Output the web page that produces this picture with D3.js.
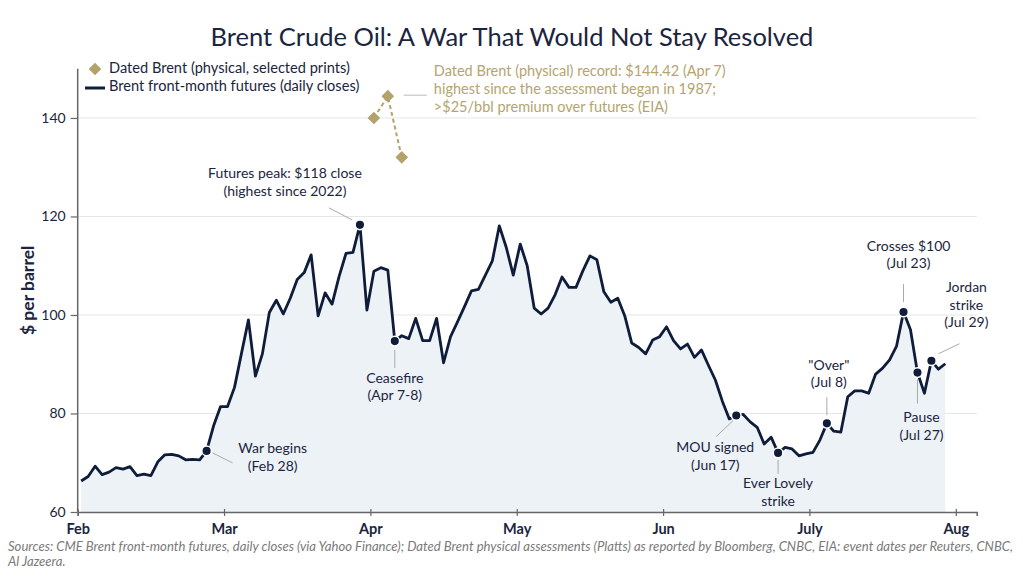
<!DOCTYPE html>
<html>
<head>
<meta charset="utf-8">
<script src="https://cdn.jsdelivr.net/npm/d3@7"></script>
<style>
  html, body { margin: 0; padding: 0; background: #fff; }
  svg { display: block; font-family: Lato, "Open Sans", sans-serif; }
</style>
</head>
<body>
<svg id="chart" width="1023" height="585"></svg>
<script>
// Brent front-month futures, daily closes (one value per trading day, Feb -> end of Jul)
var closes = [
    66.3, 67.2, 69.3, 67.6, 68.1, 69.0, 68.7, 69.2, 67.4, 67.7,
    67.4, 70.2, 71.6, 71.7, 71.4, 70.6, 70.7, 70.6, 72.4, 77.5,
    81.4, 81.4, 85.3, 92.2, 99.0, 87.6, 92.1, 100.5, 103.0, 100.2,
    103.4, 107.2, 108.6, 112.2, 99.8, 104.5, 102.2, 107.8, 112.5, 112.7,
    118.3, 101.0, 108.9, 109.6, 109.1, 94.7, 95.8, 95.2, 99.3, 94.8,
    94.8, 99.3, 90.3, 95.6, 98.6, 101.7, 104.9, 105.2, 108.1, 111.0,
    118.1, 113.7, 108.1, 114.4, 110.0, 101.4, 100.2, 101.4, 104.1, 107.7,
    105.6, 105.6, 109.0, 112.0, 111.2, 104.7, 102.6, 103.4, 99.8, 94.3,
    93.4, 92.1, 94.9, 95.6, 97.6, 94.8, 93.1, 94.1, 91.4, 92.9,
    89.8, 86.8, 82.5, 78.9, 79.6, 79.8, 78.3, 77.2, 73.8, 75.2,
    72.0, 73.1, 72.8, 71.4, 71.8, 72.1, 74.6, 78.0, 76.4, 76.2,
    83.4, 84.6, 84.6, 84.1, 88.0, 89.2, 90.9, 93.7, 100.6, 97.0,
    88.3, 84.1, 90.7, 89.0, 90.1
];

// Dated Brent physical prints (trading-day index, $/bbl)
var datedDays = [42, 44, 46];
var datedPrices = [140, 144.42, 132];

// month labels, one every 21 trading days
var monthLabels = ["Feb", "Mar", "Apr", "May", "Jun", "July", "Aug"];
var yTicks = [60, 80, 100, 120, 140];

// events: trading-day index + label lines
var eventDays = [18, 40, 45, 94, 100, 107, 118, 120, 122];
var eventLabels = [
    ["War begins", "(Feb 28)"],
    ["Futures peak: $118 close", "(highest since 2022)"],
    ["Ceasefire", "(Apr 7-8)"],
    ["MOU signed", "(Jun 17)"],
    ["Ever Lovely", "strike"],
    ["\"Over\"", "(Jul 8)"],
    ["Crosses $100", "(Jul 23)"],
    ["Pause", "(Jul 27)"],
    ["Jordan", "strike", "(Jul 29)"]
];

var datedNote = [
    "Dated Brent (physical) record: $144.42 (Apr 7)",
    "highest since the assessment began in 1987;",
    ">$25/bbl premium over futures (EIA)"
];

// label placement relative to each event marker: text centre + leader line
var eventLayout = [
    { tx: 66, ty: -1, l: [6, 2, 26, 12] },
    { tx: -75, ty: -50, l: [-8, -5, -31, -17] },
    { tx: 0, ty: 38, l: [0, 9, 0, 27] },
    { tx: -21, ty: 33, l: [-3, 5, -20, 21] },
    { tx: 0, ty: 32, l: [0, 7, 0, 21] },
    { tx: 2, ty: -57, l: [0, -8, 0, -26] },
    { tx: 5, ty: -65, l: [0, -10, 0, -28] },
    { tx: 4, ty: 46, l: [0, 7, 0, 31] },
    { tx: 35, ty: -72, l: [7, -7, 28, -17] }
];

var navy = "#0f1d3a",
    ink = "#1b2540",
    gold = "#b3a26a",
    goldText = "#b5a46f",
    fillCol = "#edf2f7",
    gridCol = "#e6e6e6",
    axisCol = "#666";

var svg = d3.select("#chart");
var plotL = 77.7, plotR = 976.7, plotT = 68.7, plotB = 512;

var x = d3.scaleLinear().domain([-0.5, 128.5]).range([plotL, plotR]);
var y = d3.scaleLinear().domain([60, 150]).range([plotB, plotT]);

// title
svg.append("text")
    .attr("x", 512).attr("y", 40)
    .attr("text-anchor", "middle")
    .attr("dominant-baseline", "middle")
    .style("font-size", "25.5px")
    .style("fill", ink)
    .text("Brent Crude Oil: A War That Would Not Stay Resolved");

// grid
svg.append("g").selectAll("line")
    .data(yTicks.slice(1))
    .enter().append("line")
    .attr("x1", plotL).attr("x2", plotR)
    .attr("y1", function (d) { return y(d) })
    .attr("y2", function (d) { return y(d) })
    .style("stroke", gridCol)
    .style("stroke-width", 1);

// area + line
var area = d3.area()
    .x(function (d, i) { return x(i) })
    .y0(y(60))
    .y1(function (d) { return y(d) });
var line = d3.line()
    .x(function (d, i) { return x(i) })
    .y(function (d) { return y(d) });

svg.append("path")
    .datum(closes)
    .attr("d", area)
    .style("fill", fillCol);

svg.append("path")
    .datum(closes)
    .attr("d", line)
    .style("fill", "none")
    .style("stroke", navy)
    .style("stroke-width", 2.8)
    .style("stroke-linejoin", "round");

// axes
var yAxis = d3.axisLeft(y).tickValues(yTicks).tickSize(7).tickPadding(5);
var gy = svg.append("g")
    .attr("transform", "translate(" + plotL + ",0)")
    .call(yAxis);
gy.select(".domain").attr("d", "M0," + y(150) + "V" + y(60));

var xAxis = d3.axisBottom(x)
    .tickValues(monthLabels.map(function (m, k) { return k * 21 - 0.5 }))
    .tickFormat(function (d, k) { return monthLabels[k] })
    .tickSize(4).tickPadding(8);
var gx = svg.append("g")
    .attr("transform", "translate(0," + plotB + ")")
    .call(xAxis);

[gx, gy].forEach(function (g) {
    g.selectAll(".domain").style("stroke", axisCol).style("stroke-width", 1.5);
    g.selectAll(".tick line").style("stroke", axisCol).style("stroke-width", 1.2);
    g.selectAll("text")
        .style("font-family", "Lato, sans-serif")
        .style("fill", ink);
});
gy.selectAll("text").style("font-size", "14px");
gx.selectAll("text").style("font-size", "14.5px").style("font-weight", "bold");
gx.selectAll(".tick line").attr("y1", -3);

svg.append("text")
    .attr("transform", "translate(30," + y(105) + ") rotate(-90)")
    .attr("text-anchor", "middle")
    .attr("dominant-baseline", "middle")
    .style("font-size", "17.5px")
    .style("font-weight", "bold")
    .style("fill", ink)
    .text("$ per barrel");

// Dated Brent prints
var dated = datedDays.map(function (d, i) { return [d, datedPrices[i]] });
svg.append("path")
    .datum(dated)
    .attr("d", d3.line()
        .x(function (d) { return x(d[0]) })
        .y(function (d) { return y(d[1]) }))
    .style("fill", "none")
    .style("stroke", gold)
    .style("stroke-width", 2)
    .style("stroke-dasharray", "4,3");

var diamond = d3.symbol().type(d3.symbolSquare).size(80);
svg.append("g").selectAll("path")
    .data(dated)
    .enter().append("path")
    .attr("d", diamond)
    .attr("transform", function (d) {
        return "translate(" + x(d[0]) + "," + y(d[1]) + ") rotate(45)";
    })
    .style("fill", gold);

// note on the record print
var rec = dated[1];
svg.append("line")
    .attr("x1", x(rec[0]) + 16).attr("x2", x(rec[0]) + 39)
    .attr("y1", y(rec[1]) - 1).attr("y2", y(rec[1]) - 1)
    .style("stroke", "#bbb").style("stroke-width", 1);
svg.append("g").selectAll("text")
    .data(datedNote)
    .enter().append("text")
    .attr("x", x(rec[0]) + 46)
    .attr("y", function (d, i) { return y(rec[1]) - 24 + i * 18 })
    .attr("dominant-baseline", "middle")
    .style("font-size", "14.5px")
    .style("fill", goldText)
    .text(function (d) { return d });

// event markers + labels
eventDays.forEach(function (d, i) {
    var mx = x(d), my = y(closes[d]), lay = eventLayout[i];
    svg.append("line")
        .attr("x1", mx + lay.l[0]).attr("y1", my + lay.l[1])
        .attr("x2", mx + lay.l[2]).attr("y2", my + lay.l[3])
        .style("stroke", "#aaa").style("stroke-width", 1);
    svg.append("g").selectAll("text")
        .data(eventLabels[i])
        .enter().append("text")
        .attr("x", mx + lay.tx)
        .attr("y", function (s, k) { return my + lay.ty + k * 17.5 })
        .attr("text-anchor", "middle")
        .attr("dominant-baseline", "middle")
        .style("font-size", "14px")
        .style("fill", ink)
        .text(function (s) { return s });
    svg.append("circle")
        .attr("cx", mx).attr("cy", my).attr("r", 4.8)
        .style("fill", navy)
        .style("stroke", "#fff")
        .style("stroke-width", 1.5);
});

// legend
var lg = svg.append("g").attr("transform", "translate(85,69)");
lg.append("path")
    .attr("d", diamond)
    .attr("transform", "translate(10,0) rotate(45)")
    .style("fill", gold);
lg.append("line")
    .attr("x1", 0).attr("x2", 20).attr("y1", 19).attr("y2", 19)
    .style("stroke", navy).style("stroke-width", 3);
lg.selectAll("text")
    .data(["Dated Brent (physical, selected prints)", "Brent front-month futures (daily closes)"])
    .enter().append("text")
    .attr("x", 24)
    .attr("y", function (d, i) { return i * 18 })
    .attr("dominant-baseline", "middle")
    .style("font-size", "14.6px")
    .style("fill", ink)
    .text(function (d) { return d });

// sources
svg.append("g").selectAll("text")
    .data(["Sources: CME Brent front-month futures, daily closes (via Yahoo Finance); Dated Brent physical assessments (Platts) as reported by Bloomberg, CNBC, EIA: event dates per Reuters, CNBC,",
           "Al Jazeera."])
    .enter().append("text")
    .attr("x", 8)
    .attr("y", function (d, i) { return 548 + i * 15 })
    .attr("dominant-baseline", "middle")
    .style("font-size", "13.1px")
    .style("font-style", "italic")
    .style("fill", "#7a7a7a")
    .text(function (d) { return d });
</script>
</body>
</html>
